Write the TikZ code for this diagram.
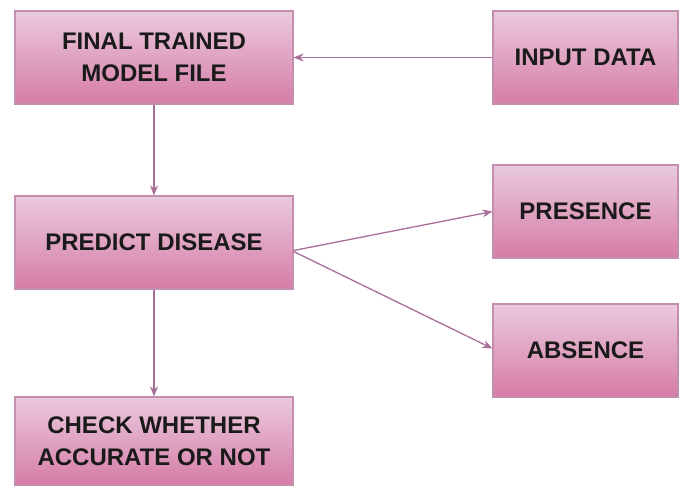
\documentclass[tikz,border=0pt]{standalone}
\usepackage{fontspec}
\setmainfont{Liberation Sans}
\definecolor{boxtop}{HTML}{EACADD}
\definecolor{boxbot}{HTML}{D67CA7}
\definecolor{boxline}{HTML}{C48FAF}
\definecolor{link}{HTML}{A86F98}
\definecolor{ink}{HTML}{1A1A1A}
\usetikzlibrary{arrows.meta,positioning}
\tikzset{
  >={Stealth[length=10pt,width=8pt]},
  box/.style={draw=boxline,line width=1.2pt,top color=boxtop,bottom color=boxbot,minimum width=278pt,minimum height=93pt,inner sep=0pt,align=center,text=ink,font=\fontsize{24}{31.5}\selectfont\bfseries},
  sbox/.style={box,minimum width=185pt},
  arr/.style={->,draw=link,line width=1.3pt},
}
\begin{document}
\begin{tikzpicture}[x=1pt,y=-1pt]
\useasboundingbox (0,0) rectangle (682,487);
% boxes
\node[box] (model) at (154,57.5) {FINAL TRAINED\\MODEL FILE};
\node[sbox] (input) at (585.5,57.5) {INPUT DATA};
\node[box] (predict) at (154,242.5) {PREDICT DISEASE};
\node[sbox] (presence) at (585.5,211.5) {PRESENCE};
\node[sbox] (absence) at (585.5,350.5) {ABSENCE};
\node[box,minimum height=88pt] (check) at (154,441) {CHECK WHETHER\\ACCURATE OR NOT};
% links
\draw[arr] (input) -- (model);
\draw[arr] (model) -- (predict);
\draw[arr] ([yshift=-8pt]predict.east) -- (presence.west);
\draw[arr] ([yshift=-9pt]predict.east) -- ([yshift=2pt]absence.west);
\draw[arr] (predict) -- (check);
\end{tikzpicture}
\end{document}
